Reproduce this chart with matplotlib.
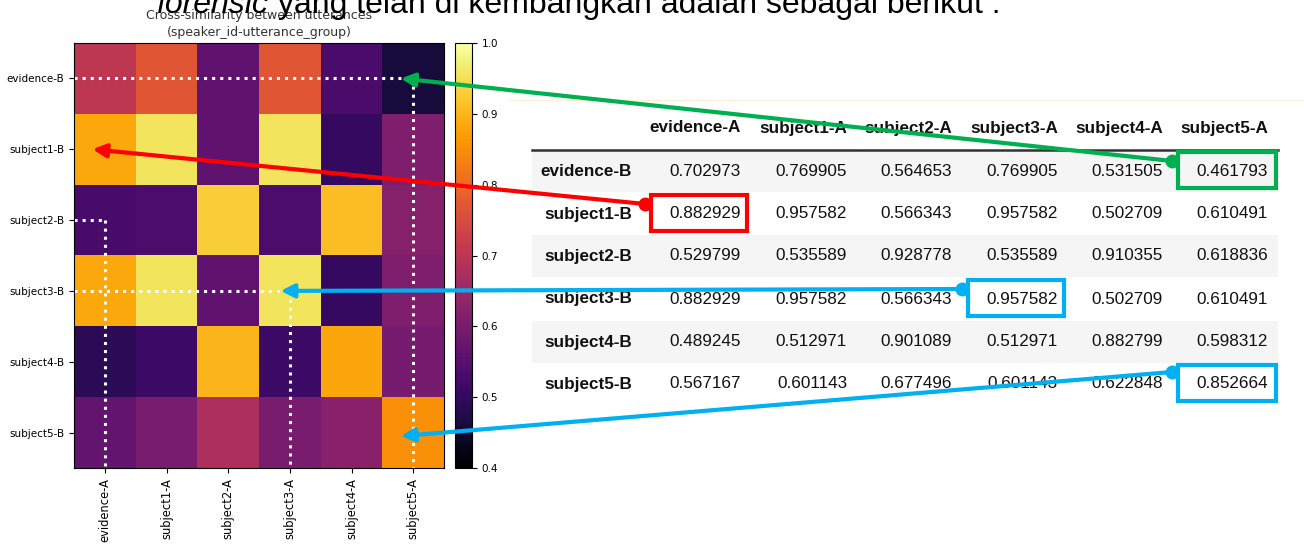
import matplotlib.pyplot as plt
import numpy as np
from matplotlib.patches import Rectangle, FancyArrowPatch

# similarity values (rows = B utterances, cols = A utterances)
row_labels = ['evidence-B', 'subject1-B', 'subject2-B', 'subject3-B', 'subject4-B', 'subject5-B']
col_labels = ['evidence-A', 'subject1-A', 'subject2-A', 'subject3-A', 'subject4-A', 'subject5-A']
evidence_b = [0.702973, 0.769905, 0.564653, 0.769905, 0.531505, 0.461793]
subject1_b = [0.882929, 0.957582, 0.566343, 0.957582, 0.502709, 0.610491]
subject2_b = [0.529799, 0.535589, 0.928778, 0.535589, 0.910355, 0.618836]
subject3_b = [0.882929, 0.957582, 0.566343, 0.957582, 0.502709, 0.610491]
subject4_b = [0.489245, 0.512971, 0.901089, 0.512971, 0.882799, 0.598312]
subject5_b = [0.567167, 0.601143, 0.677496, 0.601143, 0.622848, 0.852664]
sim = np.array([evidence_b, subject1_b, subject2_b, subject3_b, subject4_b, subject5_b])

# highlighted cells (row, col, colour)
highlights = [(0, 5, '#00b050'), (1, 0, '#ff0000'), (3, 3, '#00b0f0'), (5, 5, '#00b0f0')]

W, H = 1304, 546
fig = plt.figure(figsize=(W / 100, H / 100), dpi=100)


def box(x0, y0, x1, y1):
    # pixel box (from top-left) -> figure fraction
    return [x0 / W, 1 - y1 / H, (x1 - x0) / W, (y1 - y0) / H]


#---- heatmap
ax = fig.add_axes(box(74, 43, 444, 468))
im = ax.imshow(sim, cmap='inferno', vmin=0.4, vmax=1.0, aspect='auto')
ax.set_xticks(range(6))
ax.set_xticklabels(col_labels, rotation=90, fontsize=8.3)
ax.set_yticks(range(6))
ax.set_yticklabels(row_labels, fontsize=7.5)
ax.set_title('Cross-similarity between utterances\n(speaker_id-utterance_group)',
             fontsize=9, color='#333333', pad=5, linespacing=1.45)
ax.set_xlabel('speaker_id-utterance_group', fontsize=8.3)
ax.xaxis.set_label_coords(0.5, -0.19)

cax = fig.add_axes(box(455, 43, 472, 468))
cb = fig.colorbar(im, cax=cax)
cb.set_ticks([0.4, 0.5, 0.6, 0.7, 0.8, 0.9, 1.0])
cb.ax.tick_params(labelsize=7.5)

# dotted guide lines
dot = dict(color='white', lw=2.2, ls=':')
ax.plot([-0.5, 4.8], [0, 0], **dot)
ax.plot([5, 5], [0, 5.5], **dot)
ax.plot([-0.5, 0], [2, 2], **dot)
ax.plot([0, 0], [2, 5.5], **dot)
ax.plot([-0.5, 2.85], [3, 3], **dot)
ax.plot([3, 3], [3, 5.5], **dot)
ax.set_xlim(-0.5, 5.5)
ax.set_ylim(5.5, -0.5)

#---- overlay in pixel coords for the table + arrows
ov = fig.add_axes([0, 0, 1, 1], zorder=5)
ov.set_xlim(0, W)
ov.set_ylim(H, 0)
ov.axis('off')
ov.patch.set_alpha(0)

tfont = 'Liberation Sans'
fs = 12.3
col_right = [741, 847, 952, 1058, 1163, 1268]
row_y = [171, 214, 256, 299, 342, 384]
row_h = 42.7
label_right = 632

for i in range(6):
    if i % 2 == 0:
        ov.add_patch(Rectangle((532, row_y[i] - row_h / 2), 746, row_h,
                               facecolor='#f5f5f5', edgecolor='none', zorder=1))
ov.plot([532, 1278], [150, 150], color='#333333', lw=1.8, zorder=2)

for j, name in enumerate(col_labels):
    ov.text(col_right[j], 128, name, ha='right', va='center', fontsize=fs,
            fontweight='bold', family=tfont, color='#111111', zorder=3)
for i, name in enumerate(row_labels):
    ov.text(label_right, row_y[i], name, ha='right', va='center', fontsize=fs,
            fontweight='bold', family=tfont, color='#111111', zorder=3)
    for j in range(6):
        ov.text(col_right[j], row_y[i], '%.6f' % sim[i, j], ha='right', va='center',
                fontsize=fs, family=tfont, color='#111111', zorder=3)

# boxes round highlighted cells, arrows back to heatmap
arrow_end = {(0, 5): (4.8, 0), (1, 0): (-0.2, 1), (3, 3): (2.85, 3), (5, 5): (4.8, 5.05)}
for (r, c, colr) in highlights:
    x1 = col_right[c] + 8 if c == 5 else col_right[c] + 6
    x0 = col_right[c] - 90
    y0, y1 = row_y[r] - 19, row_y[r] + 17
    ov.add_patch(Rectangle((x0, y0), x1 - x0, y1 - y0, fill=False,
                           edgecolor=colr, lw=3, zorder=6))
    tail = (x0 - 6, y0 + 9 if r != 5 else y0 + 7)
    hx, hy = arrow_end[(r, c)]
    px, py = ax.transData.transform((hx, hy))
    head = (px, H - py)
    ov.add_patch(FancyArrowPatch(tail, head, arrowstyle='-|>', mutation_scale=20,
                                 color=colr, lw=3, zorder=7, shrinkA=0, shrinkB=0))
    ov.plot(*tail, 'o', color=colr, ms=9, zorder=8)

# slide bits
ov.plot([510, 1304], [100, 100], color='#fbf1d8', lw=1, zorder=0)
t1 = fig.text(157 / W, 1 - 13 / H, 'forensic', fontsize=23, style='italic',
              family='Liberation Sans', va='baseline')
fig.canvas.draw()
bb = t1.get_window_extent()
fig.text(bb.x1 / W, 1 - 13 / H, ' yang telah di kembangkan adalah sebagai berikut :',
         fontsize=23, family='Liberation Sans', va='baseline')

fig.savefig('out.png', dpi=100)
